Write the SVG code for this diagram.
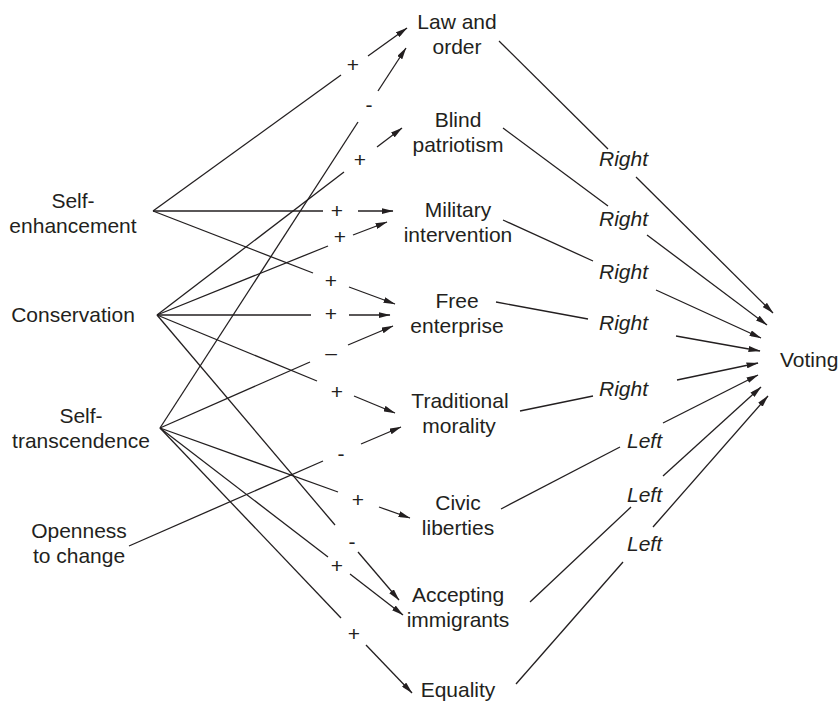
<svg xmlns="http://www.w3.org/2000/svg" width="840" height="701" viewBox="0 0 840 701">
<style>
text{font-family:"Liberation Sans",Arial,sans-serif;font-size:21px;fill:#231f20}
.m{text-anchor:middle}
.i{font-style:italic}
.c line{stroke:#231f20;stroke-width:1.3;fill:none}
.c line.a{marker-end:url(#ah)}
</style>
<defs>
<marker id="ah" markerWidth="12" markerHeight="6" refX="11.5" refY="3" orient="auto" markerUnits="userSpaceOnUse">
<path d="M0,0 L12,3 L0,6 z" fill="#231f20"/>
</marker>
</defs>
<rect width="840" height="701" fill="#fff"/>
<g id="self-enhancement"><text class="m" x="73" y="208">Self-</text><text class="m" x="73" y="233">enhancement</text></g>
<g id="conservation"><text class="m" x="73" y="322">Conservation</text></g>
<g id="self-transcendence"><text class="m" x="81" y="423">Self-</text><text class="m" x="81" y="448">transcendence</text></g>
<g id="openness"><text class="m" x="79" y="538">Openness</text><text class="m" x="79" y="563">to change</text></g>
<g id="law-order"><text class="m" x="457" y="29">Law and</text><text class="m" x="457" y="54">order</text></g>
<g id="blind-patriotism"><text class="m" x="458" y="127">Blind</text><text class="m" x="458" y="152">patriotism</text></g>
<g id="military-intervention"><text class="m" x="458" y="217">Military</text><text class="m" x="458" y="242">intervention</text></g>
<g id="free-enterprise"><text class="m" x="457" y="308">Free</text><text class="m" x="457" y="333">enterprise</text></g>
<g id="traditional-morality"><text class="m" x="460" y="408">Traditional</text><text class="m" x="459" y="433">morality</text></g>
<g id="civic-liberties"><text class="m" x="458" y="510">Civic</text><text class="m" x="458" y="535">liberties</text></g>
<g id="accepting-immigrants"><text class="m" x="458" y="602">Accepting</text><text class="m" x="458" y="627">immigrants</text></g>
<g id="equality"><text class="m" x="458" y="697">Equality</text></g>
<g id="voting"><text x="780" y="367">Voting</text></g>
<g id="connectors" class="c">
<line x1="153" y1="211" x2="341" y2="75"/><line class="a" x1="368" y1="56" x2="407" y2="28"/>
<line x1="153" y1="211" x2="323" y2="211"/><line class="a" x1="358" y1="211" x2="393" y2="211"/>
<line x1="153" y1="211" x2="313" y2="273"/><line class="a" x1="349" y1="287" x2="395" y2="304"/>
<line x1="157" y1="315" x2="344" y2="172"/><line class="a" x1="377" y1="147" x2="402" y2="128"/>
<line x1="157" y1="315" x2="328" y2="246"/><line class="a" x1="353" y1="235" x2="387" y2="222"/>
<line x1="157" y1="315" x2="311" y2="315"/><line class="a" x1="349" y1="315" x2="390" y2="315"/>
<line x1="157" y1="315" x2="317" y2="381"/><line class="a" x1="354" y1="396" x2="395" y2="413"/>
<line x1="157" y1="315" x2="335" y2="525"/><line class="a" x1="358" y1="552" x2="399" y2="600"/>
<line x1="160" y1="428" x2="358" y2="122"/><line class="a" x1="378" y1="91" x2="406" y2="48"/>
<line x1="160" y1="428" x2="310" y2="362"/><line class="a" x1="348" y1="345" x2="393" y2="326"/>
<line x1="160" y1="428" x2="338" y2="492"/><line class="a" x1="379" y1="507" x2="410" y2="518"/>
<line x1="160" y1="428" x2="328" y2="557"/><line class="a" x1="350" y1="574" x2="403" y2="615"/>
<line x1="160" y1="428" x2="341" y2="618"/><line class="a" x1="366" y1="645" x2="412" y2="693"/>
<line x1="129" y1="546" x2="323" y2="461"/><line class="a" x1="361" y1="444" x2="401" y2="427"/>
<line x1="499" y1="41" x2="608" y2="149"/><line class="a" x1="636" y1="177" x2="773" y2="313"/>
<line x1="503" y1="128" x2="608" y2="206"/><line class="a" x1="647" y1="235" x2="767" y2="325"/>
<line x1="503" y1="220" x2="593" y2="261"/><line class="a" x1="656" y1="290" x2="761" y2="338"/>
<line x1="496" y1="302" x2="588" y2="319"/><line class="a" x1="676" y1="336" x2="760" y2="351"/>
<line x1="520" y1="411" x2="593" y2="396"/><line class="a" x1="677" y1="380" x2="758" y2="363"/>
<line x1="501" y1="509" x2="620" y2="447"/><line class="a" x1="663" y1="423" x2="758" y2="375"/>
<line x1="530" y1="602" x2="631" y2="507"/><line class="a" x1="663" y1="476" x2="761" y2="387"/>
<line x1="516" y1="684" x2="623" y2="562"/><line class="a" x1="653" y1="527" x2="768" y2="396"/>
</g>
<g id="labels">
<text class="m" x="353" y="72">+</text>
<text class="m" x="369" y="112">-</text>
<text class="m" x="360" y="167">+</text>
<text class="m" x="337" y="218">+</text>
<text class="m" x="340" y="244">+</text>
<text class="m" x="331" y="288">+</text>
<text class="m" x="331" y="321">+</text>
<text class="m" x="331" y="360">–</text>
<text class="m" x="337" y="399">+</text>
<text class="m" x="341" y="461">-</text>
<text class="m" x="358" y="507">+</text>
<text class="m" x="352" y="549">-</text>
<text class="m" x="337" y="573">+</text>
<text class="m" x="354" y="641">+</text>
<text class="i" x="599" y="166">Right</text>
<text class="i" x="599" y="226">Right</text>
<text class="i" x="599" y="279">Right</text>
<text class="i" x="599" y="330">Right</text>
<text class="i" x="599" y="396">Right</text>
<text class="i" x="627" y="448">Left</text>
<text class="i" x="627" y="502">Left</text>
<text class="i" x="627" y="551">Left</text>
</g>
</svg>
